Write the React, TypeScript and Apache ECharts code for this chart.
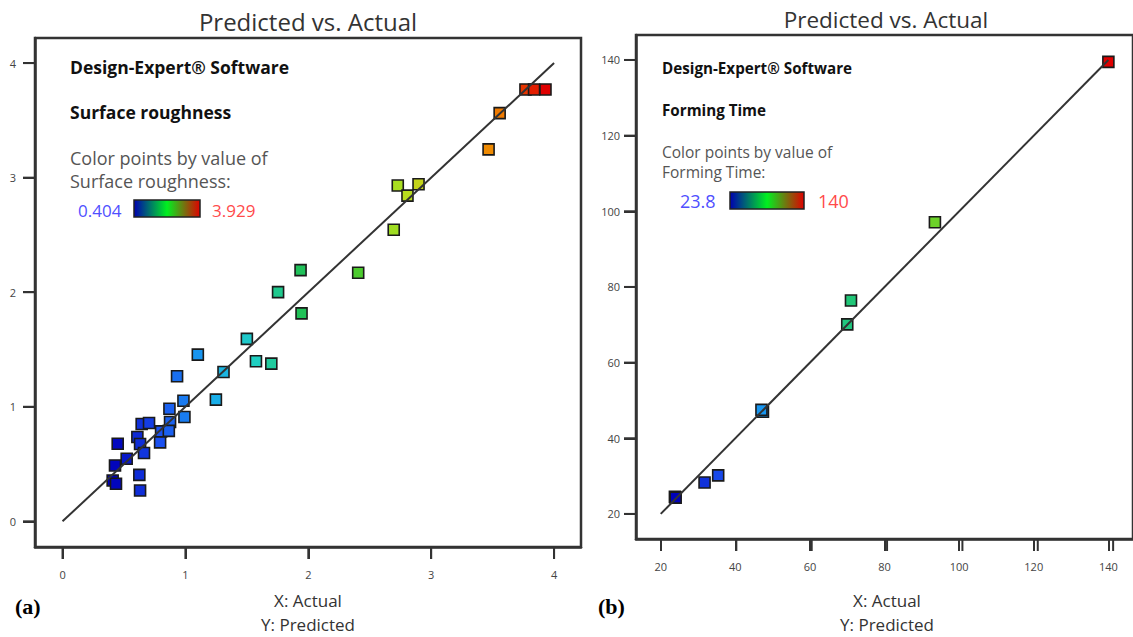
import React, { useEffect, useRef } from "react";
import * as echarts from "echarts";

// ---- Data: (a) Surface roughness, [actual, predicted]
const roughActual = [3.767, 3.837, 3.93, 3.557, 3.467, 2.728, 2.897, 2.807, 2.695, 1.937, 2.406, 1.754, 1.945, 1.50, 1.101, 1.574, 1.699, 1.31, 0.932, 1.248, 0.984, 0.870, 0.992, 0.875, 0.644, 0.704, 0.802, 0.865, 0.794, 0.449, 0.609, 0.631, 0.663, 0.522, 0.427, 0.408, 0.435, 0.625, 0.631];
const roughPredicted = [3.77, 3.77, 3.77, 3.563, 3.247, 2.931, 2.943, 2.843, 2.545, 2.193, 2.170, 2.001, 1.815, 1.593, 1.455, 1.397, 1.377, 1.304, 1.266, 1.062, 1.053, 0.983, 0.911, 0.867, 0.850, 0.858, 0.785, 0.79, 0.689, 0.677, 0.736, 0.675, 0.596, 0.546, 0.488, 0.357, 0.328, 0.406, 0.269];
const roughRange = [0.404, 3.929];
const roughTicks = [0, 1, 2, 3, 4];
const roughLine = [0, 4];
const roughAxis = [-0.224, 4.219];

// ---- Data: (b) Forming time, [actual, predicted]
const timeActual = [140, 93.5, 71.0, 70.0, 47.4, 47.0, 31.75, 35.4, 23.8, 24.0];
const timePredicted = [139.5, 97.1, 76.4, 70.1, 47.0, 47.5, 28.3, 30.2, 24.5, 24.3];
const timeRange = [23.8, 140];
const timeTicks = [20, 40, 60, 80, 100, 120, 140];
const timeLine = [20, 140];
const timeAxis = [13.37, 146.6];

const pointColors = ["#0000b8", "#1a50f0", "#18a8f0", "#20d0c0", "#20c050", "#40c830", "#b0e020", "#e8c010", "#f08000", "#e00000"];

const FONT = "'Open Sans', 'Noto Sans', sans-serif";
const TICK_LEN = 12;
const GRIDS = [
  { left: 35, top: 38, width: 546, height: 509 },
  { left: 636, top: 35, width: 502, height: 504 },
];

function axisPair(gridIndex: number, min: number, max: number, ticks: number[], xMargin: number, yMargin: number) {
  const common = {
    gridIndex,
    min,
    max,
    splitLine: { show: false },
    axisLine: { show: true, onZero: false, lineStyle: { color: "#333", width: 2.5 } },
    axisTick: { show: true, inside: false, length: TICK_LEN, customValues: ticks, lineStyle: { color: "#333", width: 2 } },
  };
  return {
    x: { ...common, type: "value", position: "bottom", axisLabel: { customValues: ticks, fontSize: 11, color: "#444", margin: xMargin, fontFamily: FONT } },
    y: { ...common, type: "value", position: "left", axisLabel: { customValues: ticks, fontSize: 11, color: "#444", margin: yMargin, fontFamily: FONT } },
  };
}

export default function App() {
  const ref = useRef<HTMLDivElement>(null);
  useEffect(() => {
    if (!ref.current) return;
    const chart = echarts.init(ref.current, null, { renderer: "svg" });
    const a = axisPair(0, roughAxis[0], roughAxis[1], roughTicks, 22, 19);
    const b = axisPair(1, timeAxis[0], timeAxis[1], timeTicks, 22, 16);
    const grad = {
      type: "linear", x: 0, y: 0, x2: 1, y2: 0,
      colorStops: [
        { offset: 0, color: "#0000b0" },
        { offset: 0.5, color: "#00f020" },
        { offset: 1, color: "#e00000" },
      ],
    };
    const txt = (x: number, y: number, text: string, size: number, color: string, weight = "normal", align = "left") => ({
      type: "text", x, y,
      style: { text, fontSize: size, fill: color, fontWeight: weight, fontFamily: FONT, textAlign: align, textVerticalAlign: "middle" },
      z: 100,
    });

    // outward tick marks at the tick values, mapped with the same linear scale as the axes
    const tickGraphics: any[] = [];
    const addTicks = (g: { left: number; top: number; width: number; height: number }, ticks: number[], ext: number[]) => {
      const span = ext[1] - ext[0];
      const bottom = g.top + g.height;
      ticks.forEach((t) => {
        const px = g.left + ((t - ext[0]) / span) * g.width;
        const py = bottom - ((t - ext[0]) / span) * g.height;
        tickGraphics.push({ type: "line", z: 120, shape: { x1: px, y1: bottom, x2: px, y2: bottom + TICK_LEN }, style: { stroke: "#333", lineWidth: 2 } });
        tickGraphics.push({ type: "line", z: 120, shape: { x1: g.left - TICK_LEN, y1: py, x2: g.left, y2: py }, style: { stroke: "#333", lineWidth: 2 } });
      });
    };
    addTicks(GRIDS[0], roughTicks, roughAxis);
    addTicks(GRIDS[1], timeTicks, timeAxis);

    const option: any = {
      animation: false,
      backgroundColor: "#ffffff",
      grid: GRIDS.map((g) => ({ ...g, show: true, borderColor: "#333", borderWidth: 2.5, backgroundColor: "transparent" })),
      xAxis: [a.x, b.x],
      yAxis: [a.y, b.y],
      visualMap: [
        { type: "continuous", show: false, seriesIndex: 0, dimension: 0, min: roughRange[0], max: roughRange[1], inRange: { color: pointColors } },
        { type: "continuous", show: false, seriesIndex: 2, dimension: 0, min: timeRange[0], max: timeRange[1], inRange: { color: pointColors } },
      ],
      series: [
        {
          type: "scatter", xAxisIndex: 0, yAxisIndex: 0, symbol: "rect", symbolSize: 11,
          itemStyle: { borderColor: "#1a1a1a", borderWidth: 1.6, opacity: 1 },
          data: roughActual.map((v, i) => [v, roughPredicted[i]]), z: 3,
        },
        {
          type: "line", xAxisIndex: 0, yAxisIndex: 0, symbol: "none", silent: true,
          lineStyle: { color: "#333", width: 2 },
          data: [[roughLine[0], roughLine[0]], [roughLine[1], roughLine[1]]], z: 4,
        },
        {
          type: "scatter", xAxisIndex: 1, yAxisIndex: 1, symbol: "rect", symbolSize: 11,
          itemStyle: { borderColor: "#1a1a1a", borderWidth: 1.6, opacity: 1 },
          data: timeActual.map((v, i) => [v, timePredicted[i]]), z: 3,
        },
        {
          type: "line", xAxisIndex: 1, yAxisIndex: 1, symbol: "none", silent: true,
          lineStyle: { color: "#333", width: 2 },
          data: [[timeLine[0], timeLine[0]], [timeLine[1], timeLine[1]]], z: 4,
        },
      ],
      graphic: [
        txt(308, 21, "Predicted vs. Actual", 24, "#333", "normal", "center"),
        txt(886, 19, "Predicted vs. Actual", 22.5, "#333", "normal", "center"),
        // left annotations
        txt(70, 67, "Design-Expert® Software", 17.5, "#111", "bold"),
        txt(70, 112, "Surface roughness", 17.5, "#111", "bold"),
        txt(70, 158, "Color points by value of", 18, "#555"),
        txt(70, 181, "Surface roughness:", 18, "#555"),
        txt(78, 210, "0.404", 17, "#5050ff"),
        { type: "rect", shape: { x: 134, y: 200, width: 66, height: 17 }, style: { fill: grad, stroke: "#222", lineWidth: 1.5 }, z: 100 },
        txt(212, 210, "3.929", 17, "#ff4a4a"),
        // right annotations
        txt(662, 68, "Design-Expert® Software", 15.2, "#111", "bold"),
        txt(662, 110, "Forming Time", 15.2, "#111", "bold"),
        txt(662, 152, "Color points by value of", 15.5, "#555"),
        txt(662, 172, "Forming Time:", 15.5, "#555"),
        txt(680, 201, "23.8", 18, "#5050ff"),
        { type: "rect", shape: { x: 730, y: 192, width: 74, height: 17 }, style: { fill: grad, stroke: "#222", lineWidth: 1.5 }, z: 100 },
        txt(818, 201, "140", 18, "#ff4a4a"),
        // axis titles
        txt(308, 600, "X: Actual", 17, "#333", "normal", "center"),
        txt(308, 624, "Y: Predicted", 17, "#333", "normal", "center"),
        txt(887, 600, "X: Actual", 17, "#333", "normal", "center"),
        txt(887, 624, "Y: Predicted", 17, "#333", "normal", "center"),
        {
          type: "text", x: 15, y: 606, z: 100,
          style: { text: "(a)", fontSize: 22, fontWeight: "bold", fill: "#000", fontFamily: "'Liberation Serif', 'DejaVu Serif', serif", textVerticalAlign: "middle" },
        },
        {
          type: "text", x: 598, y: 606, z: 100,
          style: { text: "(b)", fontSize: 22, fontWeight: "bold", fill: "#000", fontFamily: "'Liberation Serif', 'DejaVu Serif', serif", textVerticalAlign: "middle" },
        },
        ...tickGraphics,
      ],
    };
    chart.setOption(option);
    return () => chart.dispose();
  }, []);
  return (
    <div style={{ position: "fixed", left: 0, top: 0, width: 1133, height: 637, overflow: "hidden", background: "#fff" }}>
      <div ref={ref} style={{ width: 1133, height: 637 }} />
    </div>
  );
}
